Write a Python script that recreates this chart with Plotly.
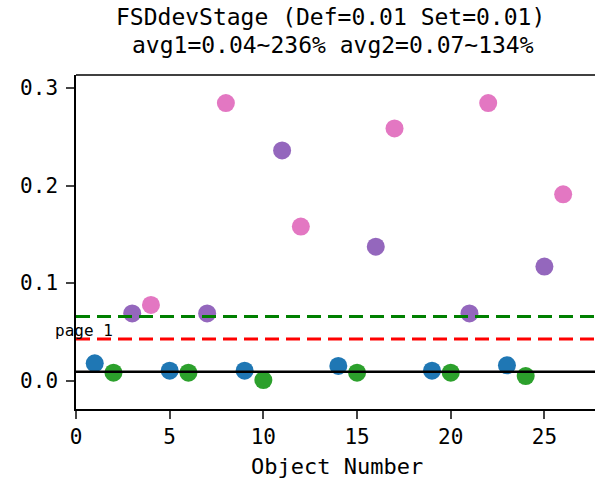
import plotly.graph_objects as go

# Data
blue_x = [1, 5, 9, 14, 19, 23]
blue_y = [0.0178, 0.0103, 0.0103, 0.0151, 0.0103, 0.0158]
green_x = [2, 6, 10, 15, 20, 24]
green_y = [0.0082, 0.0082, 0.0007, 0.0082, 0.0082, 0.0048]
purple_x = [3, 7, 11, 16, 21, 25]
purple_y = [0.069, 0.069, 0.236, 0.1374, 0.069, 0.117]
pink_x = [4, 8, 12, 17, 22, 26]
pink_y = [0.0776, 0.2845, 0.158, 0.2585, 0.2845, 0.191]

set_value = 0.0092
avg1 = 0.0428
avg2 = 0.0657

title_lines = ["FSDdevStage (Def=0.01 Set=0.01)", "avg1=0.04~236% avg2=0.07~134%"]
x_label = "Object Number"
x_ticks = [0, 5, 10, 15, 20, 25]
y_ticks = [0.0, 0.1, 0.2, 0.3]

FONT = "DejaVu Sans Mono"
W, H = 595, 483
L, R, T, B = 76, 0, 75, 74
PW, PH = W - L - R, H - T - B


def px_x(p):
    return (p - L) / PW


def px_y(p):
    return (H - B - p) / PH


fig = go.Figure()
for xs, ys, col in [(blue_x, blue_y, "#1f77b4"), (green_x, green_y, "#2ca02c"),
                    (purple_x, purple_y, "#9467bd"), (pink_x, pink_y, "#e377c2")]:
    fig.add_trace(go.Scatter(x=xs, y=ys, mode="markers",
                             marker=dict(color=col, size=18, line=dict(width=0)),
                             showlegend=False, cliponaxis=False))

fig.add_hline(y=set_value, line=dict(color="black", width=2.5))
fig.add_hline(y=avg1, line=dict(color="red", width=3, dash="14px,7px"))
fig.add_hline(y=avg2, line=dict(color="green", width=3, dash="14px,7px"))

fig.add_annotation(x=px_x(53), y=avg1, xref="paper", yref="y", text="page 1", showarrow=False,
                   xanchor="left", yanchor="bottom", yshift=-3,
                   font=dict(family=FONT, size=16, color="black"))

fig.add_annotation(x=px_x(330), y=px_y(17), xref="paper", yref="paper", text=title_lines[0],
                   showarrow=False, xanchor="center", yanchor="middle",
                   font=dict(family=FONT, size=23, color="black"))
fig.add_annotation(x=px_x(333), y=px_y(45), xref="paper", yref="paper", text=title_lines[1],
                   showarrow=False, xanchor="center", yanchor="middle",
                   font=dict(family=FONT, size=23, color="black"))
fig.add_annotation(x=px_x(337), y=px_y(466), xref="paper", yref="paper", text=x_label,
                   showarrow=False, xanchor="center", yanchor="middle",
                   font=dict(family=FONT, size=22, color="black"))

fig.update_layout(
    width=W, height=H,
    margin=dict(l=L, r=R, t=T, b=B),
    paper_bgcolor="white", plot_bgcolor="white",
    font=dict(family=FONT, color="black"),
)
fig.update_xaxes(range=[0, 27.7], tickvals=x_ticks, ticks="outside", ticklen=8, tickwidth=1.5,
                 showline=True, linecolor="black", linewidth=1.5, mirror=False,
                 showgrid=False, zeroline=False, automargin=False,
                 tickfont=dict(family=FONT, size=21))
fig.update_yaxes(range=[-0.029, 0.3133], tickvals=y_ticks, tickformat=".1f",
                 ticks="outside", ticklen=8, tickwidth=1.5, ticklabelstandoff=4,
                 showline=True, linecolor="black", linewidth=1.5,
                 showgrid=False, zeroline=False, automargin=False,
                 tickfont=dict(family=FONT, size=21))
# top spine
fig.add_shape(type="line", xref="paper", yref="paper", x0=0, x1=1, y0=1, y1=1,
              line=dict(color="black", width=1.5))
fig.write_html("out.html", config={"displayModeBar": False},
               post_script="document.body.style.margin='0';document.body.style.overflow='hidden';")
